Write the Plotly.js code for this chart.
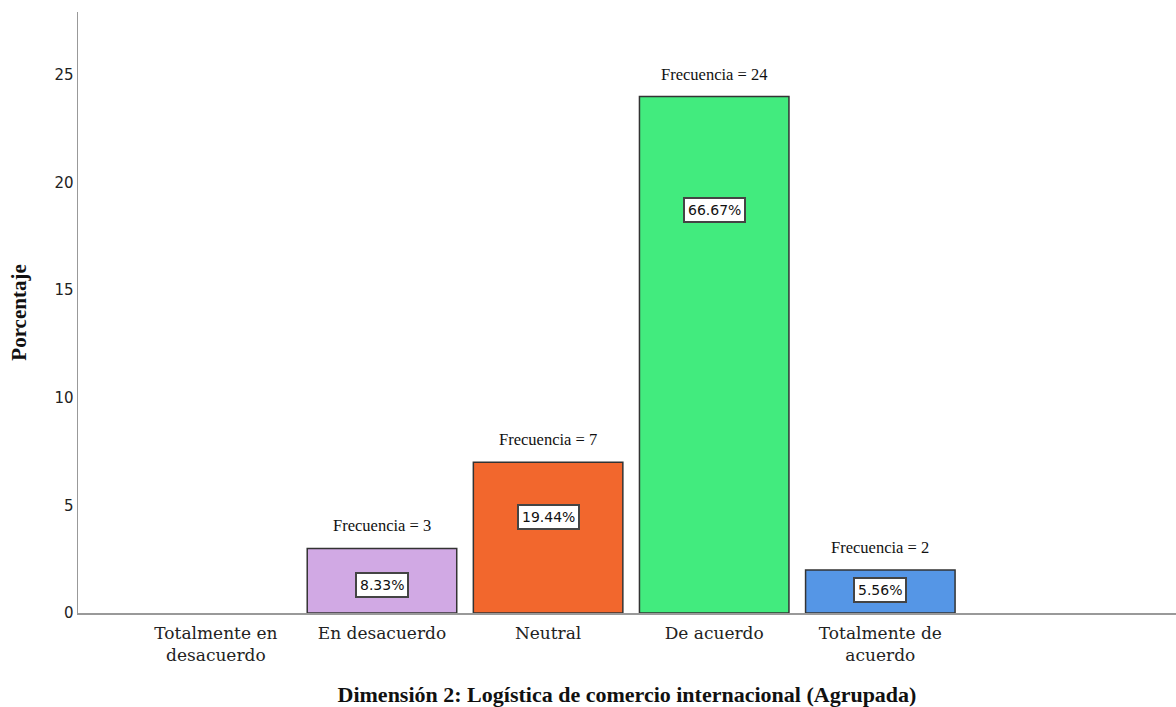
<!DOCTYPE html>
<html>
<head>
<meta charset="utf-8">
<script src="https://cdn.plot.ly/plotly-3.0.1.min.js"></script>
<style>html,body{margin:0;padding:0;background:#fff;}#chart{width:1176px;height:707px;}</style>
</head>
<body>
<div id="chart"></div>
<script>
// Data
const categories = ["Totalmente en<br>desacuerdo", "En desacuerdo", "Neutral", "De acuerdo", "Totalmente de<br>acuerdo"];
const frequencies = [0, 3, 7, 24, 2];
const barColors = ["#C9A0DC", "#D1A9E4", "#F2672D", "#42EB7E", "#5596E6"];
const yTicks = [0, 5, 10, 15, 20, 25];

// Layout helpers (positions of the percent boxes, as fraction of bar height)
const pctLabelFrac = [0.5, 0.43, 0.64, 0.78, 0.53];

const total = frequencies.reduce((a, b) => a + b, 0);

const trace = {
  type: "bar",
  x: categories,
  y: frequencies,
  width: 0.9,
  marker: {
    color: barColors,
    line: { color: "#333333", width: frequencies.map(v => v > 0 ? 1.5 : 0) }
  },
  hoverinfo: "skip"
};

const annotations = [];
frequencies.forEach((v, i) => {
  if (v <= 0) return;
  annotations.push({
    x: categories[i], y: v, xref: "x", yref: "y",
    text: "Frecuencia = " + v, showarrow: false,
    yanchor: "bottom", yshift: 11,
    font: { family: "Liberation Serif, serif", size: 16.5, color: "#111" }
  });
  annotations.push({
    x: categories[i], y: v * pctLabelFrac[i], xref: "x", yref: "y",
    text: (v / total * 100).toFixed(2) + "%", showarrow: false,
    bgcolor: "#ffffff", bordercolor: "#444", borderwidth: 2, borderpad: 3,
    font: { family: "DejaVu Sans, sans-serif", size: 14, color: "#111" }
  });
});

const layout = {
  width: 1176, height: 707,
  margin: { l: 78, r: 0, t: 12, b: 94 },
  paper_bgcolor: "#fff", plot_bgcolor: "#fff",
  showlegend: false,
  bargap: 0.1,
  xaxis: {
    range: [-0.83, 5.78],
    showgrid: false, zeroline: false,
    showline: true, linecolor: "#999", linewidth: 1.5,
    ticks: "",
    ticklabelstandoff: 4,
    tickfont: { family: "DejaVu Serif, serif", size: 17, color: "#222" },
    title: {
      text: "<b>Dimensión 2: Logística de comercio internacional (Agrupada)</b>",
      font: { family: "Liberation Serif, serif", size: 22, color: "#111" },
      standoff: 22
    }
  },
  yaxis: {
    range: [0, 27.93],
    tickvals: yTicks,
    showgrid: false, zeroline: false,
    showline: true, linecolor: "#999", linewidth: 1.5,
    ticks: "", ticklen: 0,
    tickfont: { family: "DejaVu Sans, sans-serif", size: 15, color: "#222" },
    title: {
      text: "<b>Porcentaje</b>",
      font: { family: "Liberation Serif, serif", size: 21, color: "#111" },
      standoff: 22
    }
  },
  annotations: annotations
};

Plotly.newPlot("chart", [trace], layout, { displayModeBar: false, staticPlot: true });
</script>
</body>
</html>
